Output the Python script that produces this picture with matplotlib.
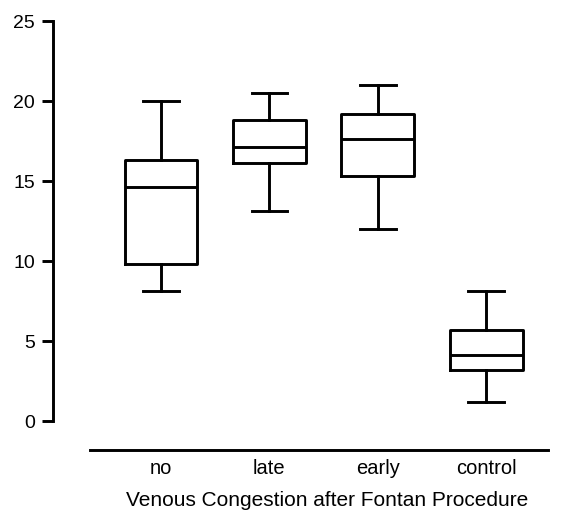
import matplotlib
matplotlib.use("Agg")
import matplotlib.pyplot as plt

plt.rcParams["font.family"] = ["Liberation Sans", "DejaVu Sans"]

# box statistics
groups = ["no", "late", "early", "control"]
whislo = [8.1, 13.1, 12.0, 1.2]
q1 = [9.8, 16.1, 15.3, 3.2]
med = [14.6, 17.1, 17.6, 4.1]
q3 = [16.3, 18.8, 19.2, 5.7]
whishi = [20.0, 20.5, 21.0, 8.1]
y_ticks = [0, 5, 10, 15, 20, 25]

W, H, DPI = 562, 512, 100
fig = plt.figure(figsize=(W / DPI, H / DPI), dpi=DPI)
ax = fig.add_axes([90 / W, (H - 450) / H, (548 - 90) / W, (450 - 21) / H])

stats = []
for i, g in enumerate(groups):
    stats.append({"label": g, "whislo": whislo[i], "q1": q1[i], "med": med[i],
                  "q3": q3[i], "whishi": whishi[i], "fliers": []})

lw = 2.1
ax.bxp(stats, positions=range(1, len(groups) + 1), widths=0.67, capwidths=0.33,
       showfliers=False,
       boxprops=dict(color="black", linewidth=lw),
       whiskerprops=dict(color="black", linewidth=lw),
       capprops=dict(color="black", linewidth=lw),
       medianprops=dict(color="black", linewidth=lw))

ax.set_xlim(0.345, 4.57)
ax.set_ylim(-1.81, 25)
ax.set_yticks(y_ticks)
ax.set_xticks(range(1, len(groups) + 1))
ax.set_xticklabels(groups)

for s in ["top", "right"]:
    ax.spines[s].set_visible(False)
ax.spines["left"].set_position(("outward", 37 * 72 / DPI))
ax.spines["left"].set_bounds(0, 25)
ax.spines["left"].set_linewidth(lw)
ax.spines["bottom"].set_linewidth(lw)

ax.tick_params(axis="y", length=8, width=lw, labelsize=14, pad=5)
ax.tick_params(axis="x", length=0, labelsize=14.5, pad=6.5)
ax.set_xlabel("Venous Congestion after Fontan Procedure", fontsize=15, labelpad=9)
ax.xaxis.label.set_x(0.517)

fig.savefig("out.png", dpi=DPI)
